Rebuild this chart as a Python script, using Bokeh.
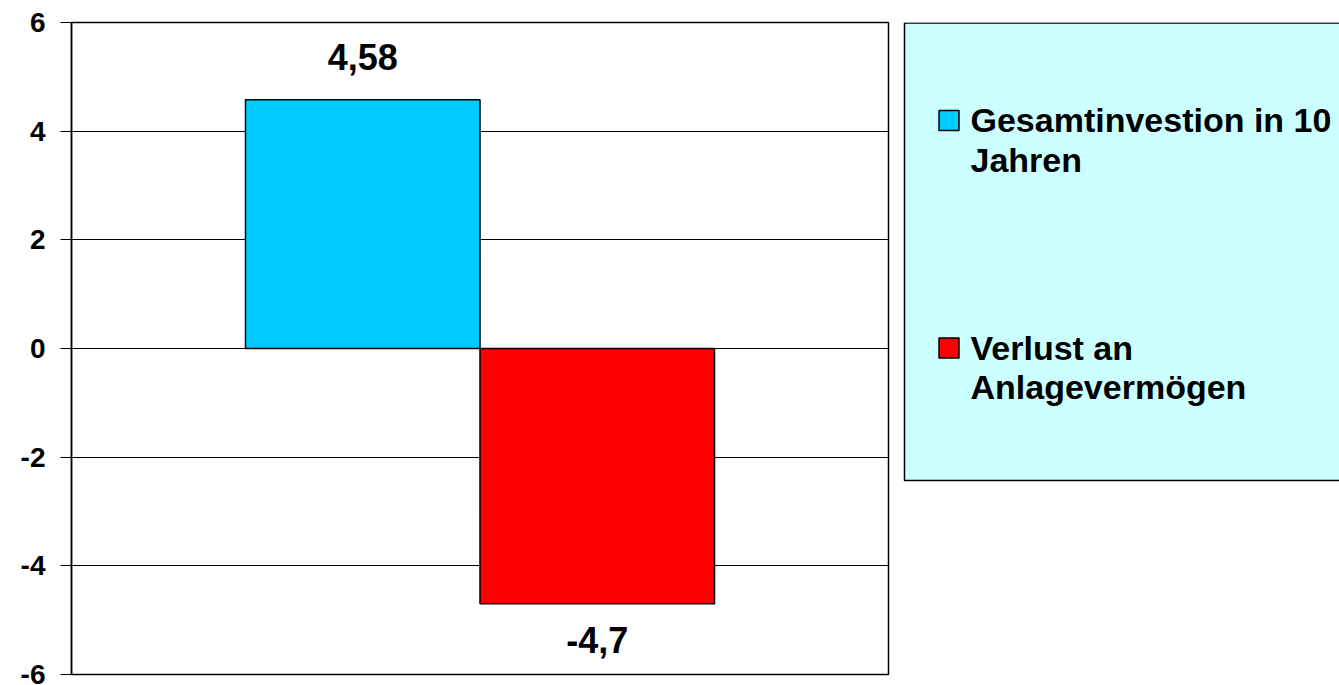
import textwrap
from bokeh.plotting import figure
from bokeh.models import FactorRange, Range1d, FixedTicker
from bokeh.layouts import row
from bokeh.embed import file_html
from bokeh.resources import INLINE
from bokeh.core.properties import value

# ---- data ----
series = ["Gesamtinvestion in 10 Jahren", "Verlust an Anlagevermögen"]
values = [4.58, -4.7]
value_labels = ["4,58", "-4,7"]
colors = ["#00CCFF", "#FF0000"]
y_ticks = [-6, -4, -2, 0, 2, 4, 6]

FONT = "Liberation Sans"

# ---- main chart ----
p = figure(width=896, height=685,
           x_range=FactorRange(factors=series, range_padding=0.742, range_padding_units="absolute"),
           y_range=Range1d(-6, 6), x_axis_location=None,
           output_backend="svg", toolbar_location=None,
           min_border_left=71, min_border_right=8, min_border_top=22, min_border_bottom=11)
p.background_fill_color = "white"
p.border_fill_color = "white"
p.outline_line_color = "black"
p.outline_line_width = 1.5

p.yaxis.ticker = FixedTicker(ticks=y_ticks)
p.yaxis.major_label_overrides = {t: str(t) for t in y_ticks}
p.yaxis.major_label_text_font = FONT
p.yaxis.major_label_text_font_style = "bold"
p.yaxis.major_label_text_font_size = "28px"
p.yaxis.major_label_text_color = "black"
p.yaxis.major_label_standoff = 15
p.yaxis.axis_line_color = "black"
p.yaxis.axis_line_width = 1.5
p.yaxis.major_tick_line_color = "black"
p.yaxis.major_tick_out = 11
p.yaxis.major_tick_in = 0
p.yaxis.minor_tick_line_color = None

p.xgrid.visible = False
p.ygrid.ticker = FixedTicker(ticks=y_ticks)
p.ygrid.grid_line_color = "black"
p.ygrid.grid_line_width = 1
p.ygrid.grid_line_alpha = 1.0

p.vbar(x=series, top=values, bottom=0, width=1.0, fill_color=colors,
       line_color="black", line_width=1.5)

label_dy = [-43 if v > 0 else 36 for v in values]
p.text(x=series, y=values, text=value_labels, y_offset=label_dy,
       text_align="center", text_baseline="middle",
       text_font=value(FONT), text_font_style="bold", text_font_size="36px",
       text_color="black")

# ---- legend panel (screen-like coordinates) ----
q = figure(width=443, height=685, x_range=Range1d(0, 443), y_range=Range1d(674, 22),
           output_backend="svg", toolbar_location=None,
           min_border_left=0, min_border_right=0, min_border_top=22, min_border_bottom=11,
           x_axis_location=None, y_axis_location=None)
q.outline_line_color = None
q.grid.visible = False
q.background_fill_color = "white"
q.border_fill_color = "white"

q.quad(left=8, right=470, top=22.5, bottom=480, fill_color="#CCFFFF",
       line_color="black", line_width=1.5)

wrapped = ["\n".join(textwrap.wrap(s, 21)) for s in series]
leg_y = [120, 347.5]
q.rect(x=[52.5] * len(series), y=leg_y, width=20, height=20, fill_color=colors,
       line_color="black", line_width=1.5)
q.text(x=[74] * len(series), y=[v + 19.5 for v in leg_y], text=wrapped, text_align="left",
       text_baseline="middle", text_line_height=1.05,
       text_font=value(FONT), text_font_style="bold", text_font_size="34px",
       text_color="black")

layout = row(p, q)
open("out.html", "w").write(file_html(layout, INLINE))
